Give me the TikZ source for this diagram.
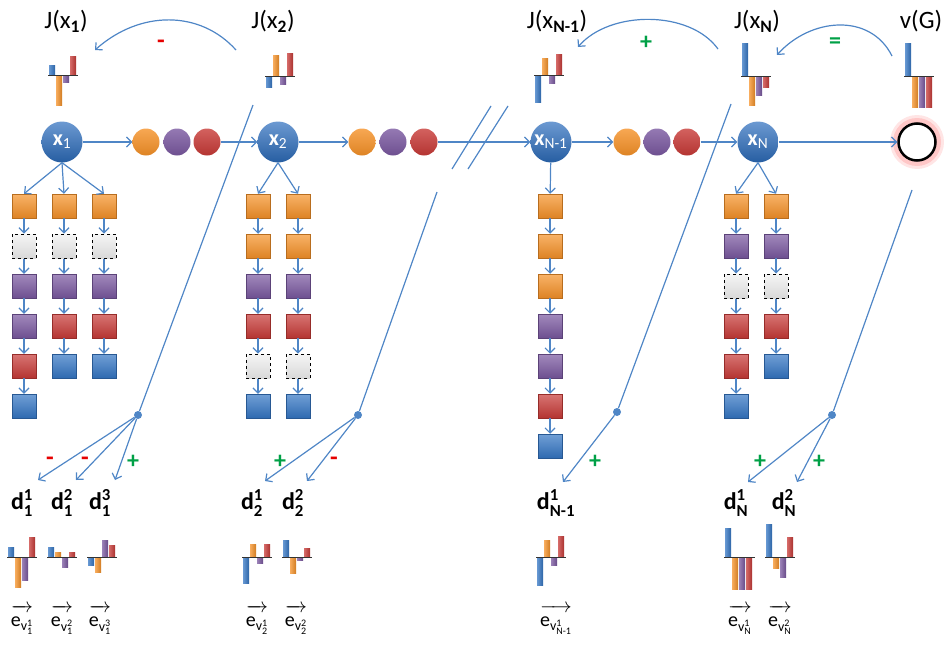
\documentclass[tikz,border=0pt]{standalone}
\usepackage{amsmath}
\usepackage{fontspec}
\setmainfont{Carlito}
\usetikzlibrary{arrows.meta}

\definecolor{lnblue}{RGB}{79,134,198}
\definecolor{stblue}{RGB}{45,110,190}
\definecolor{sqorange}{RGB}{246,146,40}
\definecolor{sqpurple}{RGB}{122,88,160}
\definecolor{sqred}{RGB}{200,58,55}
\definecolor{sqblue}{RGB}{52,118,196}
\definecolor{sgngreen}{RGB}{0,160,70}
\definecolor{sgnred}{RGB}{230,0,0}

\newcommand{\dname}[2]{\textbf{d}$^{\text{\bfseries #1}}_{\text{\bfseries #2}}$}
\newcommand{\ename}[2]{$\overrightarrow{\vphantom{\text{d}}\text{e}_{\text{v}^{\text{#1}}_{\text{#2}}}}$}

\tikzset{
  arr/.style={draw=lnblue, line width=1.2pt, -{Straight Barb[length=5pt,width=10pt]}},
  ln/.style={draw=lnblue, line width=1.2pt},
  dot/.style={circle, fill=lnblue, inner sep=0pt, minimum size=8pt},
  state/.style={circle, minimum size=41pt, inner sep=0pt, top color=stblue!70!white, bottom color=stblue!85!black, text=white, font=\fontsize{22}{24}\selectfont\bfseries},
  ball/.style={circle, minimum size=27pt, inner sep=0pt, top color=#1!80!white, bottom color=#1!90!black},
  sq/.style={rectangle, minimum size=24pt, inner sep=0pt, top color=#1!70!white, bottom color=#1!90!black, draw=#1!75!black, line width=0.5pt},
  osq/.style={sq=sqorange}, psq/.style={sq=sqpurple}, rsq/.style={sq=sqred}, bsq/.style={sq=sqblue},
  gsq/.style={rectangle, minimum size=24pt, inner sep=0pt, top color=gray!8, bottom color=gray!30, draw=black, dashed, line width=1pt},
  bar/.style={left color=#1!75!white, right color=#1!85!black},
  axis/.style={draw=black!80, line width=1pt},
  jtxt/.style={font=\fontsize{25}{28}\selectfont},
  dtxt/.style={inner sep=1pt, font=\fontsize{24}{28}\selectfont},
  etxt/.style={inner sep=0.5pt, font=\fontsize{20}{22}\selectfont},
  sgnp/.style={text=sgngreen, font=\fontsize{24}{24}\selectfont\bfseries},
  sgnm/.style={text=sgnred, font=\fontsize{25}{24}\selectfont\bfseries},
}

\begin{document}
\begin{tikzpicture}[x=1pt,y=-1pt]
\useasboundingbox (0,0) rectangle (945,645);

% value labels
\node[jtxt] (j1) at (66,21) {J(x\textsubscript{\bfseries 1})};
\node[jtxt] (j2) at (273,21) {J(x\textsubscript{\bfseries 2})};
\node[jtxt] (jm) at (557,21) {J(x\textsubscript{\bfseries N-1})};
\node[jtxt] (jn) at (757,21) {J(x\textsubscript{\bfseries N})};
\node[jtxt] (vg) at (921,21) {v(G)};

% value bars
\fill[bar=sqblue] (49,75) rectangle (55,65);
\fill[bar=sqorange] (56,75) rectangle (62,105);
\fill[bar=sqpurple] (63,75) rectangle (69,82);
\fill[bar=sqred] (70,75) rectangle (76,56);
\draw[axis] (48,75) -- (78,75);
\fill[bar=sqblue] (266,76) rectangle (272,87);
\fill[bar=sqorange] (273,76) rectangle (279,55);
\fill[bar=sqpurple] (280,76) rectangle (286,84);
\fill[bar=sqred] (287,76) rectangle (293,53);
\draw[axis] (265,76) -- (295,76);
\fill[bar=sqblue] (535,75) rectangle (541,102);
\fill[bar=sqorange] (542,75) rectangle (548,58);
\fill[bar=sqpurple] (549,75) rectangle (555,83);
\fill[bar=sqred] (556,75) rectangle (562,54);
\draw[axis] (534,75) -- (564,75);
\fill[bar=sqblue] (742,76) rectangle (748,43);
\fill[bar=sqorange] (749,76) rectangle (755,105);
\fill[bar=sqpurple] (756,76) rectangle (762,95);
\fill[bar=sqred] (763,76) rectangle (769,87);
\draw[axis] (741,76) -- (771,76);
\fill[bar=sqblue] (905,76) rectangle (911,43);
\fill[bar=sqorange] (912,76) rectangle (918,107);
\fill[bar=sqpurple] (919,76) rectangle (925,107);
\fill[bar=sqred] (926,76) rectangle (932,107);
\draw[axis] (904,76) -- (934,76);

% backup arrows
\coordinate (c1s) at (236,50);
\coordinate (c1e) at (95,50);
\draw[arr] (c1s) .. controls (200,10) and (140,10) .. (c1e);
\node[sgnm] (s1) at (161,44) {-};
\coordinate (c2s) at (718,49);
\coordinate (c2e) at (578,47);
\draw[arr] (c2s) .. controls (690,10) and (610,10) .. (c2e);
\node[sgnp] (s2) at (646,43) {+};
\coordinate (c3s) at (892,56);
\coordinate (c3e) at (777,55);
\draw[arr] (c3s) .. controls (870,12) and (810,18) .. (c3e);
\node[sgnp] (s3) at (835,43) {=};

% states and moves
\node[state] (x1) at (62,142) {x\textsubscript{\mdseries 1}};
\node[ball=sqorange] (b1o) at (146,142) {};
\node[ball=sqpurple] (b1p) at (177,142) {};
\node[ball=sqred] (b1r) at (207,142) {};
\node[state] (x2) at (278,142) {x\textsubscript{\mdseries 2}};
\node[ball=sqorange] (b2o) at (362,142) {};
\node[ball=sqpurple] (b2p) at (393,142) {};
\node[ball=sqred] (b2r) at (424,142) {};
\node[state] (xm) at (551,142) {x\textsubscript{\mdseries N-1}};
\node[ball=sqorange] (b3o) at (627,142) {};
\node[ball=sqpurple] (b3p) at (657,142) {};
\node[ball=sqred] (b3r) at (687,142) {};
\node[state] (xn) at (758,142) {x\textsubscript{\mdseries N}};
\fill[red!10] (917,142) circle (27pt);
\fill[red!22] (917,142) circle (24pt);
\node[circle, minimum size=37pt, inner sep=0pt, draw=black, line width=2.5pt, fill=white] (goal) at (917,142) {};
\draw[arr] (x1) -- (b1o);
\draw[arr] (b1r) -- (x2);
\draw[arr] (x2) -- (b2o);
\draw[arr] (b2r) -- (xm);
\draw[ln] (452,169) -- (491,106);
\draw[ln] (468,169) -- (508,106);
\draw[arr] (xm) -- (b3o);
\draw[arr] (b3r) -- (xn);
\draw[arr] (xn) -- (goal);

% rollouts from x1
\node[osq] (a1) at (24,206) {};
\node[gsq] (a2) at (24,246) {};
\node[psq] (a3) at (24,286) {};
\node[psq] (a4) at (24,326) {};
\node[rsq] (a5) at (24,366) {};
\node[bsq] (a6) at (24,406) {};
\node[osq] (b1) at (64,206) {};
\node[gsq] (b2) at (64,246) {};
\node[psq] (b3) at (64,286) {};
\node[rsq] (b4) at (64,326) {};
\node[bsq] (b5) at (64,366) {};
\node[osq] (c1) at (104,206) {};
\node[gsq] (c2) at (104,246) {};
\node[psq] (c3) at (104,286) {};
\node[rsq] (c4) at (104,326) {};
\node[bsq] (c5) at (104,366) {};
\draw[arr] (x1.south) -- (a1.north);
\draw[arr] (x1.south) -- (b1.north);
\draw[arr] (x1.south) -- (c1.north);
\path[arr] (a1) edge (a2) (a2) edge (a3) (a3) edge (a4) (a4) edge (a5) (a5) edge (a6);
\path[arr] (b1) edge (b2) (b2) edge (b3) (b3) edge (b4) (b4) edge (b5);
\path[arr] (c1) edge (c2) (c2) edge (c3) (c3) edge (c4) (c4) edge (c5);

% rollouts from x2
\node[osq] (d1) at (258,206) {};
\node[osq] (d2) at (258,246) {};
\node[psq] (d3) at (258,286) {};
\node[rsq] (d4) at (258,326) {};
\node[gsq] (d5) at (258,366) {};
\node[bsq] (d6) at (258,406) {};
\node[osq] (e1) at (298,206) {};
\node[osq] (e2) at (298,246) {};
\node[psq] (e3) at (298,286) {};
\node[rsq] (e4) at (298,326) {};
\node[gsq] (e5) at (298,366) {};
\node[bsq] (e6) at (298,406) {};
\draw[arr] (x2.south) -- (d1.north);
\draw[arr] (x2.south) -- (e1.north);
\path[arr] (d1) edge (d2) (d2) edge (d3) (d3) edge (d4) (d4) edge (d5) (d5) edge (d6);
\path[arr] (e1) edge (e2) (e2) edge (e3) (e3) edge (e4) (e4) edge (e5) (e5) edge (e6);

% rollout from xN-1
\node[osq] (f1) at (550,206) {};
\node[osq] (f2) at (550,246) {};
\node[osq] (f3) at (550,286) {};
\node[psq] (f4) at (550,326) {};
\node[psq] (f5) at (550,366) {};
\node[rsq] (f6) at (550,406) {};
\node[bsq] (f7) at (550,446) {};
\draw[arr] (xm) -- (f1);
\path[arr] (f1) edge (f2) (f2) edge (f3) (f3) edge (f4) (f4) edge (f5) (f5) edge (f6) (f6) edge (f7);

% rollouts from xN
\node[osq] (g1) at (736,206) {};
\node[psq] (g2) at (736,246) {};
\node[gsq] (g3) at (736,286) {};
\node[rsq] (g4) at (736,326) {};
\node[rsq] (g5) at (736,366) {};
\node[bsq] (g6) at (736,406) {};
\node[osq] (h1) at (776,206) {};
\node[psq] (h2) at (776,246) {};
\node[gsq] (h3) at (776,286) {};
\node[rsq] (h4) at (776,326) {};
\node[bsq] (h5) at (776,366) {};
\draw[arr] (xn.south) -- (g1.north);
\draw[arr] (xn.south) -- (h1.north);
\path[arr] (g1) edge (g2) (g2) edge (g3) (g3) edge (g4) (g4) edge (g5) (g5) edge (g6);
\path[arr] (h1) edge (h2) (h2) edge (h3) (h3) edge (h4) (h4) edge (h5);

% differences
\coordinate (l1) at (253,105);
\node[dot] (p1) at (138,415) {};
\draw[ln] (l1) -- (p1);
\coordinate (t11) at (38,480);
\coordinate (t12) at (76,480);
\coordinate (t13) at (115,480);
\draw[arr] (p1) -- (t11);
\draw[arr] (p1) -- (t12);
\draw[arr] (p1) -- (t13);
\node[sgnm] (m11) at (50,461) {-};
\node[sgnm] (m12) at (85,461) {-};
\node[sgnp] (m13) at (133,462) {+};

\coordinate (l2) at (437,192);
\node[dot] (p2) at (358,415) {};
\draw[ln] (l2) -- (p2);
\coordinate (t21) at (265,481);
\coordinate (t22) at (307,481);
\draw[arr] (p2) -- (t21);
\draw[arr] (p2) -- (t22);
\node[sgnp] (m21) at (280,462) {+};
\node[sgnm] (m22) at (334,461) {-};

\coordinate (l3) at (731,104);
\node[dot] (p3) at (617,412) {};
\draw[ln] (l3) -- (p3);
\coordinate (t31) at (563,482);
\draw[arr] (p3) -- (t31);
\node[sgnp] (m31) at (595,462) {+};

\coordinate (l4) at (912,190);
\node[dot] (p4) at (832,415) {};
\draw[ln] (l4) -- (p4);
\coordinate (t41) at (748,482);
\coordinate (t42) at (797,482);
\draw[arr] (p4) -- (t41);
\draw[arr] (p4) -- (t42);
\node[sgnp] (m41) at (760,462) {+};
\node[sgnp] (m42) at (819,462) {+};

% difference labels
\node[dtxt] (d11) at (22,503) {\dname{1}{1}};
\node[dtxt] (d12) at (62,503) {\dname{2}{1}};
\node[dtxt] (d13) at (100,503) {\dname{3}{1}};
\node[dtxt] (d21) at (252,503) {\dname{1}{2}};
\node[dtxt] (d22) at (293,503) {\dname{2}{2}};
\node[dtxt] (dm1) at (556,503) {\dname{1}{N-1}};
\node[dtxt] (dn1) at (736,503) {\dname{1}{N}};
\node[dtxt] (dn2) at (784,503) {\dname{2}{N}};

% difference bars
\fill[bar=sqblue] (8,557) rectangle (14,547);
\fill[bar=sqorange] (15,557) rectangle (21,587);
\fill[bar=sqpurple] (22,557) rectangle (28,580);
\fill[bar=sqred] (29,557) rectangle (35,537);
\draw[axis] (7,557) -- (37,557);
\fill[bar=sqblue] (48,557) rectangle (54,547);
\fill[bar=sqorange] (55,557) rectangle (61,552);
\fill[bar=sqpurple] (62,557) rectangle (68,567);
\fill[bar=sqred] (69,557) rectangle (75,552);
\draw[axis] (47,557) -- (77,557);
\fill[bar=sqblue] (88,557) rectangle (94,565);
\fill[bar=sqorange] (95,557) rectangle (101,572);
\fill[bar=sqpurple] (102,557) rectangle (108,540);
\fill[bar=sqred] (109,557) rectangle (115,545);
\draw[axis] (87,557) -- (117,557);
\fill[bar=sqblue] (243,557) rectangle (249,583);
\fill[bar=sqorange] (250,557) rectangle (256,544);
\fill[bar=sqpurple] (257,557) rectangle (263,563);
\fill[bar=sqred] (264,557) rectangle (270,544);
\draw[axis] (242,557) -- (272,557);
\fill[bar=sqblue] (283,557) rectangle (289,540);
\fill[bar=sqorange] (290,557) rectangle (296,573);
\fill[bar=sqpurple] (297,557) rectangle (303,560);
\fill[bar=sqred] (304,557) rectangle (310,548);
\draw[axis] (282,557) -- (312,557);
\fill[bar=sqblue] (537,557) rectangle (543,585);
\fill[bar=sqorange] (544,557) rectangle (550,540);
\fill[bar=sqpurple] (551,557) rectangle (557,565);
\fill[bar=sqred] (558,557) rectangle (564,536);
\draw[axis] (536,557) -- (566,557);
\fill[bar=sqblue] (725,557) rectangle (731,528);
\fill[bar=sqorange] (732,557) rectangle (738,589);
\fill[bar=sqpurple] (739,557) rectangle (745,589);
\fill[bar=sqred] (746,557) rectangle (752,589);
\draw[axis] (724,557) -- (755,557);
\fill[bar=sqblue] (766,557) rectangle (772,524);
\fill[bar=sqorange] (773,557) rectangle (779,568);
\fill[bar=sqpurple] (780,557) rectangle (786,577);
\fill[bar=sqred] (787,557) rectangle (793,537);
\draw[axis] (765,557) -- (795,557);

% directions
\node[etxt] (e11) at (22,620) {\ename{1}{1}};
\node[etxt] (e12) at (62,620) {\ename{2}{1}};
\node[etxt] (e13) at (100,620) {\ename{3}{1}};
\node[etxt] (e21) at (257,620) {\ename{1}{2}};
\node[etxt] (e22) at (296,620) {\ename{2}{2}};
\node[etxt] (em1) at (556,620) {\ename{1}{N-1}};
\node[etxt] (en1) at (740,620) {\ename{1}{N}};
\node[etxt] (en2) at (780,620) {\ename{2}{N}};
\end{tikzpicture}
\end{document}
